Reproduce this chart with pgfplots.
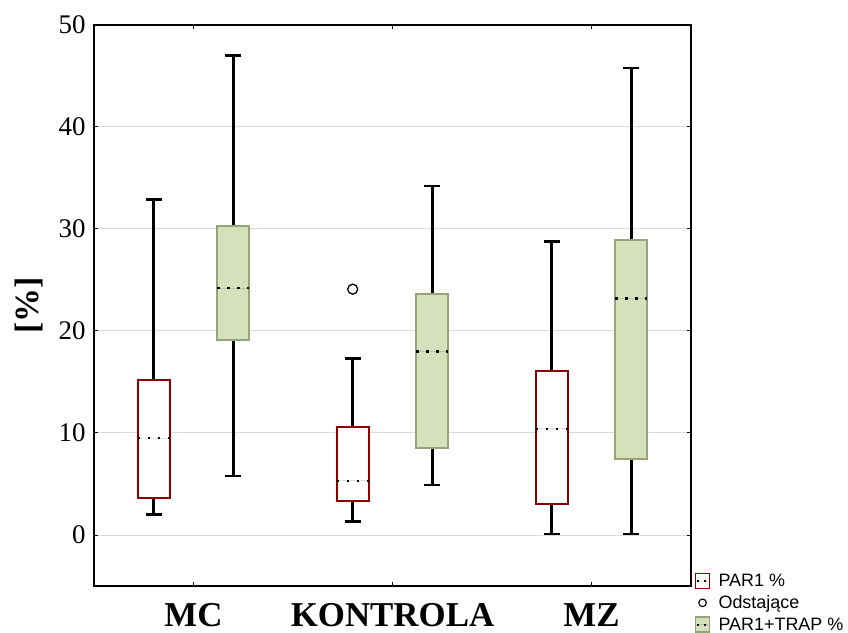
\documentclass[border=0pt]{standalone}
\usepackage{fontspec}
\setmainfont{Liberation Serif}
\newfontfamily\lsans{Liberation Sans}
\usepackage{pgfplots}
\pgfplotsset{compat=1.18}
\usepgfplotslibrary{statistics}
\definecolor{parred}{RGB}{140,0,0}
\definecolor{trapfill}{RGB}{214,224,186}
\definecolor{trapedge}{RGB}{152,163,122}
\pgfplotsset{
  par/.style={draw=parred, fill=white, line width=2bp},
  trap/.style={draw=trapedge, fill=trapfill, line width=2bp},
}
\begin{document}
\begin{tikzpicture}
\begin{axis}[
  name=ax,
  scale only axis, width=597bp, height=561bp,
  xmin=-0.5, xmax=2.5, ymin=-5, ymax=50,
  xtick={0,1,2}, xticklabels={MC,KONTROLA,MZ},
  ytick={0,10,20,30,40,50},
  ymajorgrids, grid style={draw=black!14, line width=1bp},
  tick align=inside, major tick length=4bp,
  every tick/.style={black, line width=1bp},
  axis line style={black, line width=1.4bp},
  /pgf/number format/assume math mode=true,
  yticklabel style={font=\fontsize{27}{27}\selectfont, xshift=-5bp},
  xticklabel style={font=\fontsize{35}{35}\selectfont\bfseries, yshift=-14bp},
  ylabel={[\%]},
  ylabel style={font=\fontsize{34}{34}\selectfont\bfseries, yshift=9bp},
  legend style={at={(1.006,0.025)}, anchor=north west, draw=none, fill=none,
    font=\fontsize{18}{20}\selectfont\lsans, inner sep=0pt, row sep=3.5bp},
  legend cell align=left,
  boxplot/draw direction=y,
  boxplot/every whisker/.style={black, line width=2.6bp, solid},
  boxplot/every median/.style={black, line width=2.6bp, dash pattern=on 2.6bp off 7.4bp},
]
% PAR1 %
\addplot[par, boxplot prepared={draw position=-0.2, lower whisker=2.0, lower quartile=3.6,
  median=9.5, upper quartile=15.2, upper whisker=32.9, box extend=0.16, whisker extend=0.08},
  legend image code/.code={
    \draw[parred, fill=white, line width=1.6bp] (0bp,-7.5bp) rectangle (14bp,7.5bp);
    \draw[black, line width=2bp, dash pattern=on 2bp off 5bp] (1bp,0bp) -- (13bp,0bp);
    \path (20bp,0bp);}
  ] coordinates {};
\addlegendentry{PAR1 \%}
% outlier
\addplot[only marks, mark=o, mark size=5bp, black, mark options={line width=1.3bp},
  legend image code/.code={\draw[black, line width=1.1bp] (7bp,0bp) circle (3.8bp); \path (20bp,0bp);}]
  coordinates {(0.8,24.1)};
\addlegendentry{Odstające}
% PAR1+TRAP %
\addplot[trap, boxplot prepared={draw position=0.2, lower whisker=5.8, lower quartile=19.1,
  median=24.2, upper quartile=30.3, upper whisker=47.0, box extend=0.16, whisker extend=0.08},
  legend image code/.code={
    \draw[trapedge, fill=trapfill, line width=1.6bp] (0bp,-7.5bp) rectangle (14bp,7.5bp);
    \draw[black, line width=2bp, dash pattern=on 2bp off 5bp] (1bp,0bp) -- (13bp,0bp);
    \path (20bp,0bp);}
  ] coordinates {};
\addlegendentry{PAR1+TRAP \%}
\addplot[par, forget plot, boxplot prepared={draw position=0.8, lower whisker=1.3, lower quartile=3.3,
  median=5.3, upper quartile=10.6, upper whisker=17.3, box extend=0.16, whisker extend=0.08}] coordinates {};
\addplot[trap, forget plot, boxplot prepared={draw position=1.2, lower whisker=4.9, lower quartile=8.5,
  median=18.0, upper quartile=23.6, upper whisker=34.2, box extend=0.16, whisker extend=0.08}] coordinates {};
\addplot[par, forget plot, boxplot prepared={draw position=1.8, lower whisker=0.1, lower quartile=3.0,
  median=10.4, upper quartile=16.1, upper whisker=28.8, box extend=0.16, whisker extend=0.08}] coordinates {};
\addplot[trap, forget plot, boxplot prepared={draw position=2.2, lower whisker=0.1, lower quartile=7.5,
  median=23.2, upper quartile=28.9, upper whisker=45.8, box extend=0.16, whisker extend=0.08}] coordinates {};
\end{axis}
\pgfresetboundingbox
\path (ax.south west) ++(-94bp,-47bp) rectangle ++(848bp,633bp);
\end{tikzpicture}
\end{document}
